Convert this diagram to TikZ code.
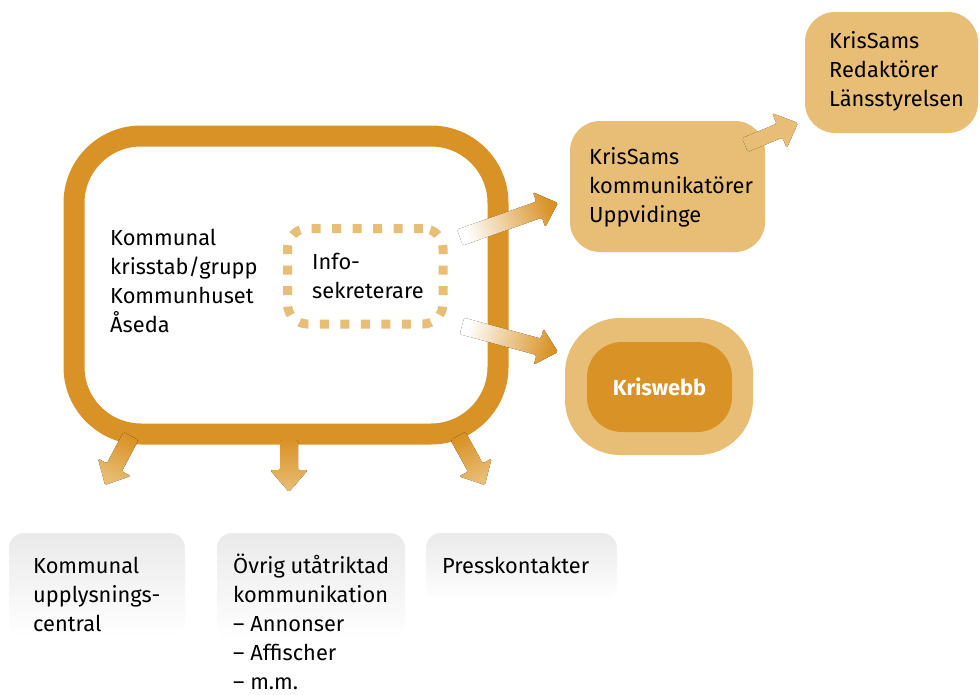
\documentclass[tikz,border=0pt]{standalone}
\usepackage{fontspec}
\setmainfont{Fira Sans}
\usetikzlibrary{calc}
\definecolor{dko}{HTML}{D99226}
\definecolor{lto}{HTML}{E8BE76}
\definecolor{gbox}{HTML}{EAEAEA}
\newcommand{\fs}{\fontsize{21.8pt}{29.2pt}\selectfont}
\newcommand{\fsb}{\fontsize{21.8pt}{29pt}\selectfont}
% #1 start, #2 tip, #3 start colour, #4 end colour, #5 shaft width, #6 head width, #7 head length
\newcommand{\fadearrow}[7]{%
  \path let \p1=($(#2)-(#1)$) in \pgfextra{%
    \pgfmathsetmacro\faang{atan2(\y1,\x1)}%
    \pgfmathsetmacro\falen{veclen(\x1,\y1)}%
    \global\let\faang\faang\global\let\falen\falen};
  \pgfmathsetmacro\fasa{\faang-90}%
  \pgfmathsetmacro\fab{\falen-#7}%
  \begin{scope}[shift={(#1)},rotate=\faang]
    \fill[bottom color=#3,top color=#4,shading angle=\fasa,rounded corners=1.5pt]
      (0,#5/2) -- (\fab,#5/2) -- (\fab,#6/2) -- (\falen,0) -- (\fab,-#6/2)
      -- (\fab,-#5/2) -- (0,-#5/2) -- cycle;
  \end{scope}}
\tikzset{
  txt/.style={anchor=north west,inner sep=0pt,align=left,font=\fs},
  btxt/.style={anchor=north west,inner sep=0pt,align=left,font=\fsb},
  litebox/.style={fill=lto,rounded corners=30pt,inner sep=0pt},
  graybox/.style={top color=gbox,bottom color=white,rounded corners=15pt,inner sep=0pt},
}
\begin{document}
\begin{tikzpicture}[x=1pt,y=-1pt]
\useasboundingbox (0,0) rectangle (980,694);
% main box
\node[draw=dko,line width=21pt,fill=white,rounded corners=67pt,inner sep=0pt,
      minimum width=424pt,minimum height=298pt] (stab) at (286,285) {};
\node[txt] (stabt) at (110,224.6) {\strut Kommunal\\krisstab/grupp\\Kommunhuset\\Åseda};
% info box
\node[draw=lto,line width=9pt,dash pattern=on 9pt off 11.5pt,rounded corners=20pt,
      inner sep=0pt,minimum width=155.5pt,minimum height=95.5pt] (info) at (365.25,276.25) {};
\node[txt] (infot) at (312,248.6) {\strut Info-\\sekreterare};
% right boxes
\node[litebox,minimum width=195pt,minimum height=131pt] (ksk) at (667.5,186.5) {};
\node[txt] (kskt) at (589,143.6) {\strut KrisSams\\kommunikatörer\\Uppvidinge};
\node[litebox,minimum width=173pt,minimum height=121pt] (ksr) at (891.5,72.5) {};
\node[txt] (ksrt) at (829,27.6) {\strut KrisSams\\Redaktörer\\Länsstyrelsen};
\node[fill=lto,rounded corners=55pt,inner sep=0pt,minimum width=188pt,minimum height=137pt] (kwo) at (659,386.5) {};
\node[fill=dko,rounded corners=35pt,inner sep=0pt,minimum width=145pt,minimum height=90pt,
      text=white,font=\fs\bfseries] (kwi) at (659.5,387) {Kriswebb};
% bottom boxes
\node[graybox,minimum width=176pt,minimum height=105pt] (b1) at (97,585.5) {};
\node[graybox,minimum width=188pt,minimum height=107pt] (b2) at (311,586.5) {};
\node[graybox,minimum width=191pt,minimum height=68pt] (b3) at (521.5,567) {};
\node[btxt] (b1t) at (33,552.7) {\strut Kommunal\\upplysnings-\\central};
\node[btxt] (b2t) at (233,552.7) {\strut Övrig utåtriktad\\kommunikation\\– Annonser\\– Affischer\\– m.m.};
\node[btxt] (b3t) at (442,552.7) {\strut Presskontakter};
% arrow end points
\coordinate (a1s) at (460,237.5);  \coordinate (a1e) at (558,203);
\coordinate (a2s) at (462,326);    \coordinate (a2e) at (558,352);
\coordinate (a3s) at (745,145);    \coordinate (a3e) at (798,123);
\coordinate (a4s) at (131,436);    \coordinate (a4e) at (105,485);
\coordinate (a5s) at (289,440);    \coordinate (a5e) at (289,492);
\coordinate (a6s) at (458,436);    \coordinate (a6e) at (485,485);
\fadearrow{a1s}{a1e}{white}{dko}{17}{37}{20}
\fadearrow{a2s}{a2e}{white}{dko}{17}{37}{20}
\fadearrow{a3s}{a3e}{lto}{lto}{15}{38}{20}
\fadearrow{a4s}{a4e}{dko}{lto}{17}{37}{20}
\fadearrow{a5s}{a5e}{dko}{lto}{18}{38}{22}
\fadearrow{a6s}{a6e}{dko}{lto}{17}{37}{20}
\end{tikzpicture}
\end{document}
